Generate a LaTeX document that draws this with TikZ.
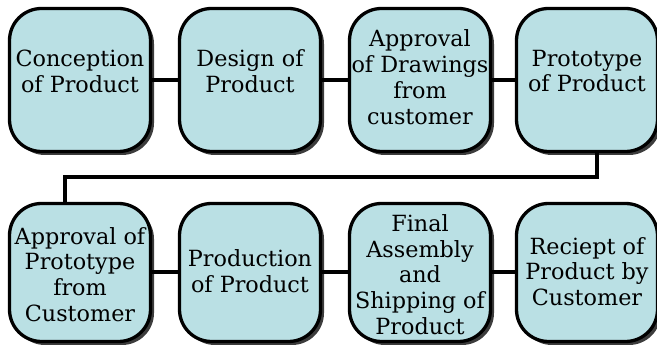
\documentclass[tikz,border=0pt]{standalone}
\usepackage{fontspec}
\setmainfont{DejaVu Serif}
\usetikzlibrary{shadows}
\definecolor{boxfill}{RGB}{186,224,228}
\definecolor{shade}{RGB}{60,60,60}
\begin{document}
\begin{tikzpicture}[x=1pt,y=-1pt,
  stepbox/.style={draw=black, line width=3.3pt, fill=boxfill, rounded corners=32pt,
    minimum width=141pt, inner sep=0pt,
    drop shadow={shadow xshift=3.5pt, shadow yshift=-3.5pt, fill=shade, opacity=1}},
  toprow/.style={stepbox, minimum height=143pt},
  botrow/.style={stepbox, minimum height=138pt},
  txt/.style={align=center, font=\fontsize{22.3}{25.8}\selectfont, inner sep=0pt},
  link/.style={line width=4pt}]
\useasboundingbox (0,0) rectangle (657,347);
% top row
\node[toprow] (b1) at (80,80) {};
\node[toprow] (b2) at (250,80) {};
\node[toprow] (b3) at (420,80) {};
\node[toprow] (b4) at (587,80) {};
% bottom row
\node[botrow] (b5) at (80,272.5) {};
\node[botrow] (b6) at (250,272.5) {};
\node[botrow] (b7) at (420,272.5) {};
\node[botrow] (b8) at (587,272.5) {};
% connectors
\draw[link] (b1.east) -- (b2.west);
\draw[link] (b2.east) -- (b3.west);
\draw[link] (b3.east) -- (b4.west);
\draw[link] (b5.east) -- (b6.west);
\draw[link] (b6.east) -- (b7.west);
\draw[link] (b7.east) -- (b8.west);
\coordinate (turn) at (330,177);
\draw[link] ([xshift=10pt]b4.south) |- (turn) -| ([xshift=-15pt]b5.north);
% texts
\node[txt] (t1) at ([yshift=9pt]b1.center) {Conception\\of Product};
\node[txt] (t2) at ([yshift=9pt]b2.center) {Design of\\Product};
\node[txt] (t3) at ([yshift=3pt]b3.center) {Approval\\of Drawings\\from\\customer};
\node[txt] (t4) at ([yshift=9pt]b4.center) {Prototype\\of Product};
\node[txt] (t5) at ([yshift=-2pt]b5.center) {Approval of\\Prototype\\from\\Customer};
\node[txt] (t6) at ([yshift=1pt]b6.center) {Production\\of Product};
\node[txt] (t7) at ([yshift=-2pt]b7.center) {Final\\Assembly\\and\\Shipping of\\Product};
\node[txt] (t8) at ([yshift=1pt]b8.center) {Reciept of\\Product by\\Customer};
\end{tikzpicture}
\end{document}
